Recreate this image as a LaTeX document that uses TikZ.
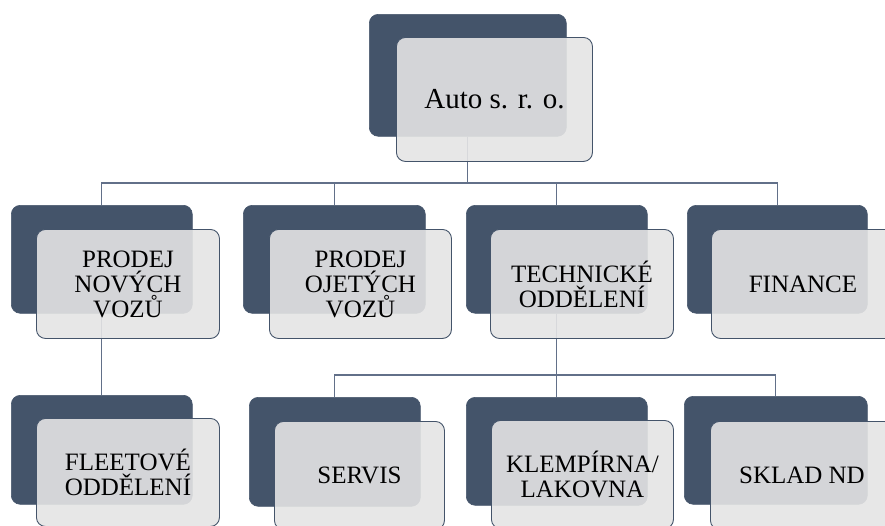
\documentclass[tikz,border=0pt]{standalone}
\usepackage{fontspec}
\setmainfont{Liberation Serif}
\newfontfamily\tnr{Liberation Serif}
\usetikzlibrary{backgrounds}
\definecolor{darkslate}{HTML}{44546A}
\definecolor{lightfill}{HTML}{E4E4E4}
\definecolor{connclr}{HTML}{627089}
\tikzset{
  darkbox/.style={draw=darkslate, fill=darkslate, rounded corners=9pt, anchor=north west, inner sep=0pt, line width=0.6pt},
  lightbox/.style={draw=darkslate, line width=0.9pt, fill=lightfill, fill opacity=0.9, text opacity=1, rounded corners=9pt, anchor=north west, inner sep=0pt, align=center, text=black, font=\tnr\fontsize{25}{25}\selectfont},
  conn/.style={draw=connclr, line width=1.2pt}
}
\begin{document}
\begin{tikzpicture}[x=1pt,y=-1pt]
\useasboundingbox (0,0) rectangle (885,525);
\clip (0,0) rectangle (885,525);
% top
\node[darkbox, minimum width=197pt, minimum height=122pt] (d0) at (369,14) {};
\node[lightbox, minimum width=196pt, minimum height=124pt, font=\tnr\fontsize{29}{29}\selectfont] (l0) at (396,37) {Auto s. r. o.};
% row 2
\node[darkbox, minimum width=181pt, minimum height=108pt] (d1) at (11,205) {};
\node[lightbox, minimum width=183pt, minimum height=109pt] (l1) at (36,229) {PRODEJ\\NOVÝCH\\VOZŮ};
\node[darkbox, minimum width=182pt, minimum height=108pt] (d2) at (243,205) {};
\node[lightbox, minimum width=182pt, minimum height=109pt] (l2) at (269,229) {PRODEJ\\OJETÝCH\\VOZŮ};
\node[darkbox, minimum width=181pt, minimum height=108pt] (d3) at (466,205) {};
\node[lightbox, minimum width=183pt, minimum height=109pt] (l3) at (490,229) {TECHNICKÉ\\ODDĚLENÍ};
\node[darkbox, minimum width=180pt, minimum height=108pt] (d4) at (687,205) {};
\node[lightbox, minimum width=183pt, minimum height=109pt] (l4) at (711,229) {FINANCE};
% row 3
\node[darkbox, minimum width=181pt, minimum height=109pt] (f1) at (11,395) {};
\node[lightbox, minimum width=183pt, minimum height=108pt] (g1) at (36,418) {FLEETOVÉ\\ODDĚLENÍ};
\node[darkbox, minimum width=171pt, minimum height=109pt] (s1) at (249,397) {};
\node[lightbox, minimum width=170pt, minimum height=108pt] (t1) at (274,421) {SERVIS};
\node[darkbox, minimum width=181pt, minimum height=108pt] (s2) at (466,397) {};
\node[lightbox, minimum width=182pt, minimum height=108pt] (t2) at (491,420) {KLEMPÍRNA/\\LAKOVNA};
\node[darkbox, minimum width=183pt, minimum height=108pt] (s3) at (684,396) {};
\node[lightbox, minimum width=183pt, minimum height=108pt] (t3) at (710,421) {SKLAD ND};
% connectors
\coordinate (bus1) at (0,183);
\coordinate (bus2) at (0,375);
\begin{scope}[on background layer]
\draw[conn] (d0.south) -- (d0.south |- bus1);
\draw[conn] (d1.north) -- (d1.north |- bus1) -- (d4.north |- bus1) -- (d4.north);
\draw[conn] (d2.north) -- (d2.north |- bus1);
\draw[conn] (d3.north) -- (d3.north |- bus1);
\draw[conn] (d1.south) -- (d1.south |- f1.north);
\draw[conn] (d3.south) -- (d3.south |- bus2);
\draw[conn] (s1.north) -- (s1.north |- bus2) -- (s3.north |- bus2) -- (s3.north);
\draw[conn] (s2.north) -- (s2.north |- bus2);
\end{scope}
\end{tikzpicture}
\end{document}
